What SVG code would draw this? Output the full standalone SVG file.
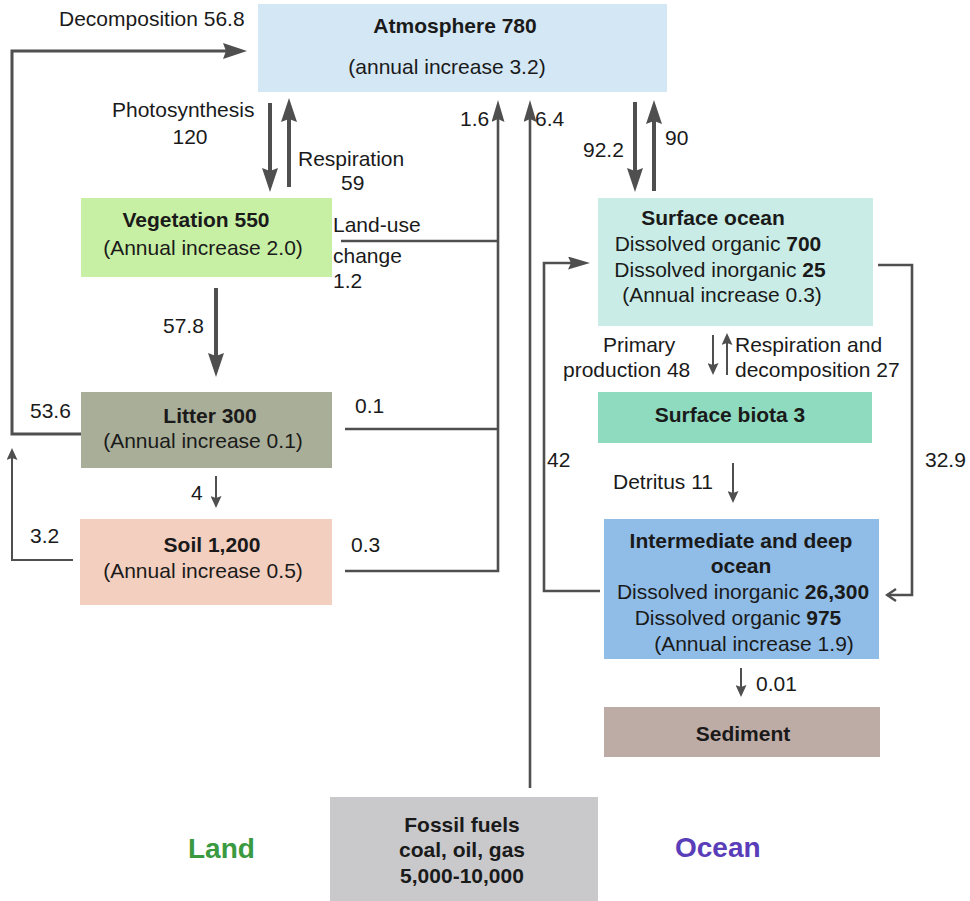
<svg xmlns="http://www.w3.org/2000/svg" width="970" height="901" viewBox="0 0 970 901">
<defs>
<style>
text { font-family: "Liberation Sans", Arial, sans-serif; font-size: 21px; fill: #1a1a1a; }
.c { text-anchor: middle; }
.b { font-weight: bold; }
.thick { stroke: #4f4f4f; stroke-width: 4; fill: none; }
.mid { stroke: #4f4f4f; stroke-width: 3; fill: none; }
.line { stroke: #4f4f4f; stroke-width: 2.6; fill: none; }
.thin { stroke: #4f4f4f; stroke-width: 2; fill: none; }
.big { font-size: 28px; font-weight: bold; }
</style>
<marker id="ah-big" markerUnits="userSpaceOnUse" markerWidth="24" markerHeight="16" viewBox="0 0 24 16" refX="8" refY="8" orient="auto">
<path d="M0,0 L24,8 L0,16 L3,8 z" fill="#4f4f4f"/>
</marker>
<marker id="ah-med" markerUnits="userSpaceOnUse" markerWidth="22" markerHeight="13" viewBox="0 0 22 13" refX="7" refY="6.5" orient="auto">
<path d="M0,0 L22,6.5 L0,13 L3,6.5 z" fill="#4f4f4f"/>
</marker>
<marker id="ah-small" markerUnits="userSpaceOnUse" markerWidth="12" markerHeight="11" viewBox="0 0 12 11" refX="4" refY="5.5" orient="auto">
<path d="M0,0 L12,5.5 L0,11 L2,5.5 z" fill="#4f4f4f"/>
</marker>
<marker id="ah-open" markerUnits="userSpaceOnUse" markerWidth="12" markerHeight="14" viewBox="0 0 12 14" refX="10" refY="7" orient="auto">
<path d="M1,1 L10,7 L1,13" fill="none" stroke="#4f4f4f" stroke-width="2.4"/>
</marker>
</defs>
<rect x="0" y="0" width="970" height="901" fill="#ffffff"/>

<g id="atmosphere">
<rect x="258" y="4" width="409" height="88" fill="#d4e7f4"/>
<text x="455" y="33" class="c b">Atmosphere 780</text>
<text x="447" y="74" class="c">(annual increase 3.2)</text>
</g>

<g id="vegetation">
<rect x="81" y="198" width="251" height="79" fill="#c8f0a4"/>
<text x="196" y="227" class="c b">Vegetation 550</text>
<text x="203" y="255" class="c">(Annual increase 2.0)</text>
</g>

<g id="litter">
<rect x="81" y="392" width="251" height="76" fill="#a9ae98"/>
<text x="210" y="423" class="c b">Litter 300</text>
<text x="203" y="448" class="c">(Annual increase 0.1)</text>
</g>

<g id="soil">
<rect x="80" y="519" width="252" height="86" fill="#f3cfbf"/>
<text x="212" y="552" class="c b">Soil 1,200</text>
<text x="203" y="578" class="c">(Annual increase 0.5)</text>
</g>

<g id="surface-ocean">
<rect x="598" y="198" width="275" height="128" fill="#c9ede6"/>
<text x="713" y="225" class="c b">Surface ocean</text>
<text x="718" y="251" class="c">Dissolved organic <tspan class="b">700</tspan></text>
<text x="720" y="277" class="c">Dissolved inorganic <tspan class="b">25</tspan></text>
<text x="722" y="302" class="c">(Annual increase 0.3)</text>
</g>

<g id="surface-biota">
<rect x="598" y="392" width="274" height="51" fill="#8fdbc0"/>
<text x="730" y="422" class="c b">Surface biota 3</text>
</g>

<g id="deep-ocean">
<rect x="604" y="519" width="275" height="140" fill="#8fbde8"/>
<text x="741" y="548" class="c b">Intermediate and deep</text>
<text x="741" y="573" class="c b">ocean</text>
<text x="743" y="599" class="c">Dissolved inorganic <tspan class="b">26,300</tspan></text>
<text x="738" y="625" class="c">Dissolved organic <tspan class="b">975</tspan></text>
<text x="754" y="651" class="c">(Annual increase 1.9)</text>
</g>

<g id="sediment">
<rect x="604" y="707" width="276" height="50" fill="#bdaba5"/>
<text x="743" y="741" class="c b">Sediment</text>
</g>

<g id="fossil-fuels">
<rect x="330" y="797" width="268" height="104" fill="#c9c9cc"/>
<text x="462" y="832" class="c b">Fossil fuels</text>
<text x="462" y="857" class="c b">coal, oil, gas</text>
<text x="462" y="883" class="c b">5,000-10,000</text>
</g>

<g id="connectors">
<path class="mid" d="M81,434 H12 V51 H231" marker-end="url(#ah-big)"/>
<path class="thick" d="M270,103 V176" marker-end="url(#ah-big)"/>
<path class="thick" d="M289,187 V114" marker-end="url(#ah-big)"/>
<path class="thick" d="M216,288 V361" marker-end="url(#ah-big)"/>
<path class="thick" d="M635,102 V176" marker-end="url(#ah-big)"/>
<path class="thick" d="M654,191 V116" marker-end="url(#ah-big)"/>
<path class="line" d="M345,571 H498 V115" marker-end="url(#ah-med)"/>
<path class="line" d="M341,241 H498"/>
<path class="line" d="M345,429 H498"/>
<path class="line" d="M530,788 V115" marker-end="url(#ah-med)"/>
<path class="line" d="M600,591 H544 V263 H575" marker-end="url(#ah-med)"/>
<path class="line" d="M878,265 H912 V595 H887" marker-end="url(#ah-open)"/>
<path class="thin" d="M216,476 V500" marker-end="url(#ah-small)"/>
<path class="thin" d="M73,560 H12 V456" marker-end="url(#ah-small)"/>
<path class="thin" d="M733,463 V495" marker-end="url(#ah-small)"/>
<path class="thin" d="M741,668 V689" marker-end="url(#ah-small)"/>
<path class="thin" d="M713,335 V367" marker-end="url(#ah-small)"/>
<path class="thin" d="M727,375 V341" marker-end="url(#ah-small)"/>
</g>

<g id="labels">
<text x="59" y="26">Decomposition 56.8</text>
<text x="112" y="117">Photosynthesis</text>
<text x="190" y="144" class="c">120</text>
<text x="298" y="166">Respiration</text>
<text x="341" y="190">59</text>
<text x="460" y="126">1.6</text>
<text x="535" y="126">6.4</text>
<text x="583" y="157">92.2</text>
<text x="665" y="145">90</text>
<text x="333" y="232">Land-use</text>
<text x="333" y="263">change</text>
<text x="333" y="288">1.2</text>
<text x="163" y="333">57.8</text>
<text x="355" y="413">0.1</text>
<text x="30" y="418">53.6</text>
<text x="191" y="500">4</text>
<text x="30" y="543">3.2</text>
<text x="351" y="552">0.3</text>
<text x="603" y="352">Primary</text>
<text x="563" y="377">production 48</text>
<text x="735" y="352">Respiration and</text>
<text x="735" y="377">decomposition 27</text>
<text x="547" y="467">42</text>
<text x="925" y="467">32.9</text>
<text x="613" y="489">Detritus 11</text>
<text x="756" y="691">0.01</text>
<text x="188" y="858" class="big" fill="#3a9a3f" style="fill:#3a9a3f">Land</text>
<text x="675" y="857" class="big" style="fill:#5a3db8">Ocean</text>
</g>
</svg>
